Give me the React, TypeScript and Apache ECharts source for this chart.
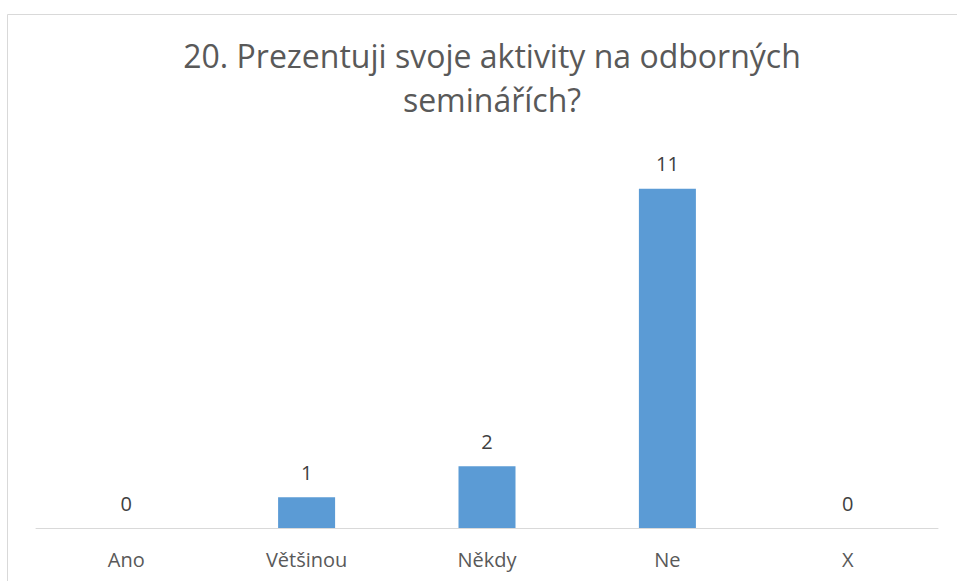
import React, { useEffect, useRef } from "react";
import * as echarts from "echarts";

const categories = ["Ano", "Většinou", "Někdy", "Ne", "X"];
const values = [0, 1, 2, 11, 0];
const titleText = "20. Prezentuji svoje aktivity na odborných\nseminářích?";

export default function App() {
  const ref = useRef<HTMLDivElement>(null);
  useEffect(() => {
    if (!ref.current) return;
    const chart = echarts.init(ref.current, null, { renderer: "svg" });
    const font = "'Open Sans', 'Noto Sans', sans-serif";
    chart.setOption({
      animation: false,
      backgroundColor: "#ffffff",
      title: {
        text: titleText,
        left: 487,
        top: 28,
        textAlign: "center",
        textStyle: {
          fontFamily: font,
          fontSize: 32,
          fontWeight: "normal",
          color: "#595959",
          lineHeight: 44,
        },
      },
      graphic: [
        {
          type: "rect",
          shape: { x: 7.5, y: 14.5, width: 1000, height: 1000 },
          style: { fill: "none", stroke: "#D9D9D9", lineWidth: 1 },
          silent: true,
          z: -1,
        },
      ],
      grid: { left: 36, right: 19, top: 158, bottom: 53 },
      xAxis: {
        type: "category",
        data: categories,
        axisLine: { lineStyle: { color: "#D9D9D9", width: 1 } },
        axisTick: { show: false },
        axisLabel: {
          fontFamily: font,
          fontSize: 20,
          color: "#595959",
          margin: 21,
        },
      },
      yAxis: {
        type: "value",
        min: 0,
        max: 12,
        show: false,
        splitLine: { show: false },
      },
      series: [
        {
          type: "bar",
          data: values,
          barWidth: 57,
          itemStyle: { color: "#5B9BD5" },
          label: {
            show: true,
            position: "top",
            distance: 15,
            fontFamily: font,
            fontSize: 20,
            color: "#404040",
          },
        },
      ],
    });
    return () => chart.dispose();
  }, []);
  return (
    <div
      ref={ref}
      style={{ position: "absolute", left: 0, top: 0, width: 957, height: 581 }}
    />
  );
}
